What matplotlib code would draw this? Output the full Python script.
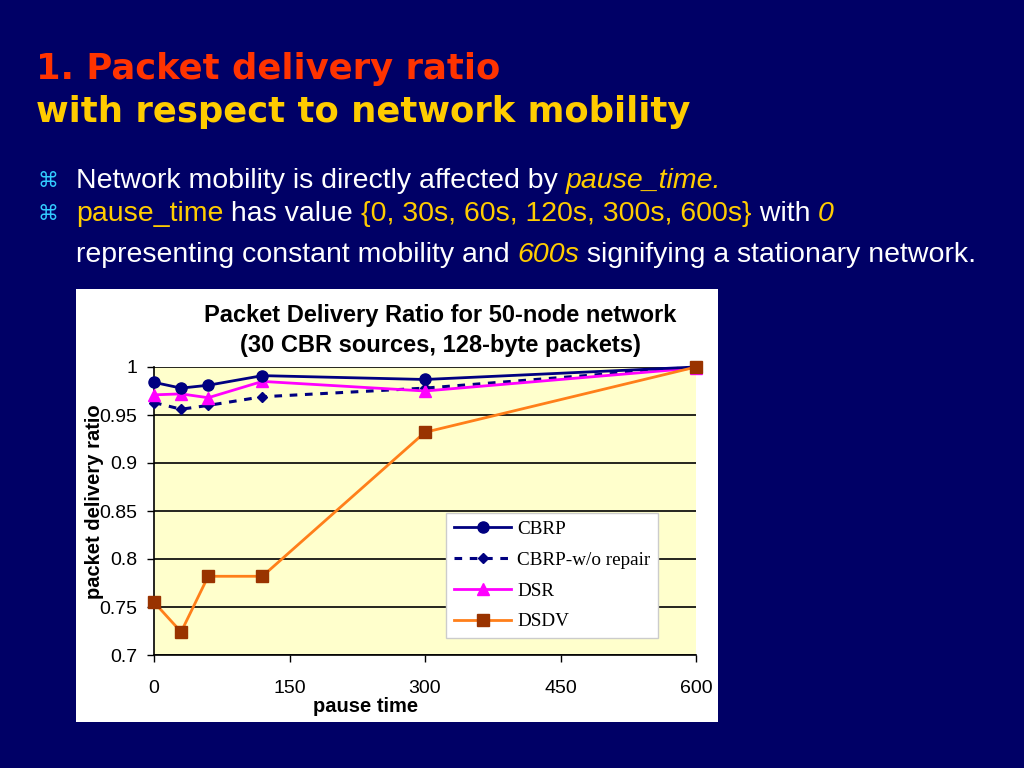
import matplotlib
matplotlib.use("Agg")
import matplotlib.pyplot as plt
from matplotlib.patches import Rectangle

pause_time = [0, 30, 60, 120, 300, 600]
cbrp = [0.984, 0.978, 0.981, 0.991, 0.987, 1.0]
cbrp_norepair = [0.963, 0.956, 0.960, 0.969, 0.978, 1.0]
dsr = [0.971, 0.972, 0.968, 0.985, 0.975, 0.999]
dsdv = [0.755, 0.724, 0.782, 0.782, 0.932, 1.0]
xticks = [0, 150, 300, 450, 600]
yticks = [0.7, 0.75, 0.8, 0.85, 0.9, 0.95, 1.0]
ytick_labels = ["0.7", "0.75", "0.8", "0.85", "0.9", "0.95", "1"]

BG = "#000066"
YEL = "#FFCC00"

W, H = 1024, 768
fig = plt.figure(figsize=(W / 100, H / 100), dpi=100, facecolor=BG)


def px(x, y):
    return x / W, 1 - y / H


# slide heading
fig.text(*px(36, 79), "1. Packet delivery ratio", color="#FF3300",
         fontsize=25.5, fontweight="bold", family="DejaVu Sans")
fig.text(*px(36, 122), "with respect to network mobility", color=YEL,
         fontsize=25.5, fontweight="bold", family="DejaVu Sans")

renderer = fig.canvas.get_renderer()


def runs(x, y, parts, size=20.5):
    # lay text pieces one after the other on one baseline
    for s, col, style in parts:
        t = fig.text(*px(x, y), s, color=col, fontsize=size, style=style,
                     family="Liberation Sans")
        bb = t.get_window_extent(renderer)
        x += bb.width


for yy in (188, 221):
    fig.text(*px(38, yy - 1), "\u2318", color="#33CCFF", fontsize=15,
             family="DejaVu Sans")

runs(76, 188, [("Network mobility is directly affected by ", "white", "normal"),
               ("pause_time.", YEL, "italic")])
runs(76, 221, [("pause_time", YEL, "normal"), (" has value ", "white", "normal"),
               ("{0, 30s, 60s, 120s, 300s, 600s}", YEL, "normal"),
               (" with ", "white", "normal"), ("0", YEL, "italic")])
runs(76, 262, [("representing constant mobility and ", "white", "normal"),
               ("600s", YEL, "italic"),
               (" signifying a stationary network.", "white", "normal")])

# white chart panel
x0, y0 = px(76, 722)
x1, y1 = px(718, 289)
fig.patches.append(Rectangle((x0, y0), x1 - x0, y1 - y0, transform=fig.transFigure,
                             facecolor="white", edgecolor="none", zorder=-5))

l, b = px(154, 655)
r, t = px(696, 367)
ax = fig.add_axes([l, b, r - l, t - b], zorder=2)
ax.set_facecolor("#FFFFCC")

ax.plot(pause_time, cbrp, color="#000080", lw=2, marker="o", ms=8, label="CBRP", zorder=5)
ax.plot(pause_time, cbrp_norepair, color="#000080", lw=2.2, ls=(0, (2.5, 2.5)), marker="D",
        ms=5, label="CBRP-w/o repair", zorder=4)
ax.plot(pause_time, dsr, color="#FF00FF", lw=2, marker="^", ms=9, label="DSR", zorder=4)
ax.plot(pause_time, dsdv, color="#FF7F1A", lw=2, marker="s", ms=8, mfc="#993300",
        mec="#993300", label="DSDV", zorder=6)

ax.set_xlim(0, 600)
ax.set_ylim(0.7, 1.0)
ax.set_xticks(xticks)
ax.set_yticks(yticks)
ax.set_yticklabels(ytick_labels)
ax.tick_params(direction="out", length=5, width=1, labelsize=14, colors="black")
ax.tick_params(axis="x", pad=13)
ax.tick_params(axis="y", pad=7)
for lab in ax.get_xticklabels() + ax.get_yticklabels():
    lab.set_family("Liberation Sans")
ax.grid(axis="y", color="black", lw=1.2)
ax.set_axisbelow(True)
for side in ("top", "right"):
    ax.spines[side].set_visible(False)
for side in ("left", "bottom"):
    ax.spines[side].set_linewidth(1.2)
for ln in ax.lines:
    ln.set_clip_on(False)

fig.text(*px(366, 712), "pause time", fontsize=14.5, fontweight="bold",
         family="Liberation Sans", ha="center", va="baseline")
fig.text(*px(100, 502), "packet delivery ratio", rotation=90, fontsize=14.5,
         fontweight="bold", family="Liberation Sans", ha="center", va="baseline",
         rotation_mode="anchor", zorder=5)
fig.text(*px(440, 322), "Packet Delivery Ratio for 50-node network", ha="center",
         va="baseline", fontsize=17, fontweight="bold", family="Liberation Sans")
fig.text(*px(440, 352), "(30 CBR sources, 128-byte packets)", ha="center",
         va="baseline", fontsize=17, fontweight="bold", family="Liberation Sans")

leg = ax.legend(loc="lower left", bbox_to_anchor=(0.539, 0.059, 0.39, 0.424),
                mode="expand", prop={"family": "Liberation Serif", "size": 13.8},
                frameon=True, fancybox=False, framealpha=1, edgecolor="#CCCCCC",
                handlelength=3.0, handletextpad=0.3, borderaxespad=0,
                labelspacing=0.7, borderpad=0.4)
leg.get_frame().set_linewidth(1)

fig.savefig("out.png", dpi=100, facecolor=BG)
